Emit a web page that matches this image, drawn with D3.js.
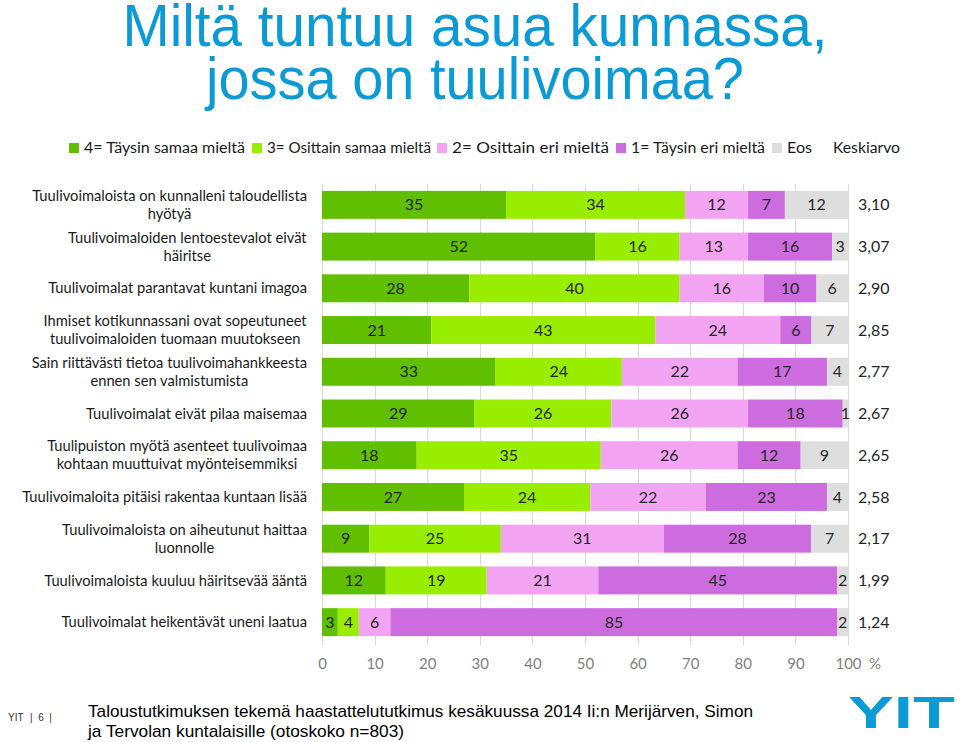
<!DOCTYPE html>
<html>
<head>
<meta charset="utf-8">
<script src="https://cdn.jsdelivr.net/npm/d3@7/dist/d3.min.js"></script>
<style>
  html, body { margin: 0; padding: 0; background: #fff; }
  svg { display: block; }
</style>
</head>
<body>
<svg id="chart" width="960" height="742"></svg>
<script>
// ---------- DATA ----------
const categories = [
  "Tuulivoimaloista on kunnalleni taloudellista\nhyötyä",
  "Tuulivoimaloiden lentoestevalot eivät\nhäiritse",
  "Tuulivoimalat parantavat kuntani imagoa",
  "Ihmiset kotikunnassani ovat sopeutuneet\ntuulivoimaloiden tuomaan muutokseen",
  "Sain riittävästi tietoa tuulivoimahankkeesta\nennen sen valmistumista",
  "Tuulivoimalat eivät pilaa maisemaa",
  "Tuulipuiston myötä asenteet tuulivoimaa\nkohtaan muuttuivat myönteisemmiksi",
  "Tuulivoimaloita pitäisi rakentaa kuntaan lisää",
  "Tuulivoimaloista on aiheutunut haittaa\nluonnolle",
  "Tuulivoimaloista kuuluu häiritsevää ääntä",
  "Tuulivoimalat heikentävät uneni laatua"
];
const seriesNames = ["4= Täysin samaa mieltä", "3= Osittain samaa mieltä", "2= Osittain eri mieltä", "1= Täysin eri mieltä", "Eos"];
const s4  = [35, 52, 28, 21, 33, 29, 18, 27,  9, 12,  3];
const s3  = [34, 16, 40, 43, 24, 26, 35, 24, 25, 19,  4];
const s2  = [12, 13, 16, 24, 22, 26, 26, 22, 31, 21,  6];
const s1  = [ 7, 16, 10,  6, 17, 18, 12, 23, 28, 45, 85];
const eos = [12,  3,  6,  7,  4,  1,  9,  4,  7,  2,  2];
const keskiarvo = ["3,10", "3,07", "2,90", "2,85", "2,77", "2,67", "2,65", "2,58", "2,17", "1,99", "1,24"];
const xTicks = [0, 10, 20, 30, 40, 50, 60, 70, 80, 90, 100];
const titleLines = ["Miltä tuntuu asua kunnassa,", "jossa on tuulivoimaa?"];
const footerLines = ["Taloustutkimuksen tekemä haastattelututkimus kesäkuussa 2014 Ii:n Merijärven, Simon",
                     "ja Tervolan kuntalaisille (otoskoko n=803)"];
const colors = ["#5fbf00", "#99ee00", "#f2a4f2", "#cc6cdf", "#dedede"];

// ---------- SETUP ----------
const svg = d3.select("#chart");
const FONT = "Lato, 'Noto Sans', sans-serif";
const NARROW = "'Liberation Sans Narrow', 'Arial Narrow', 'Liberation Sans', Arial, sans-serif";

const seriesData = [s4, s3, s2, s1, eos];
const rows = categories.map((c, i) => {
  const vals = seriesData.map(s => s[i]);
  const obj = { cat: c };
  seriesNames.forEach((n, k) => obj[n] = vals[k]);
  return obj;
});

const stack = d3.stack().keys(seriesNames).offset(d3.stackOffsetExpand);
const stacked = stack(rows);

const x = d3.scaleLinear().domain([0, 1]).range([322, 848]);
const xAxisScale = d3.scaleLinear().domain([0, 100]).range([322, 848]);
const y = d3.scaleBand().domain(categories).range([184, 643]).paddingInner(0.33).paddingOuter(0.165);

// ---------- TITLE ----------
svg.append("g").selectAll("text").data(titleLines).join("text")
  .attr("x", 475)
  .attr("y", (d, i) => 46 + i * 53)
  .attr("text-anchor", "middle")
  .attr("font-family", NARROW)
  .attr("font-size", 60)
  .attr("fill", "#0a9bd6")
  .attr("textLength", (d, i) => i === 0 ? 705 : 538)
  .attr("lengthAdjust", "spacingAndGlyphs")
  .text(d => d);

// ---------- GRIDLINES ----------
svg.append("g").selectAll("line").data(xTicks).join("line")
  .attr("x1", d => Math.round(xAxisScale(d)) + 0.5)
  .attr("x2", d => Math.round(xAxisScale(d)) + 0.5)
  .attr("y1", 184).attr("y2", 645)
  .attr("stroke", "#d9d9d9").attr("stroke-width", 1);

// ---------- BARS ----------
const layers = svg.append("g").selectAll("g").data(stacked).join("g")
  .attr("fill", (d, i) => colors[i]);

layers.selectAll("rect").data(d => d).join("rect")
  .attr("x", d => x(d[0]))
  .attr("width", d => x(d[1]) - x(d[0]))
  .attr("y", d => y(d.data.cat))
  .attr("height", y.bandwidth());

// bar labels
const labelG = svg.append("g");
stacked.forEach((layer) => {
  labelG.selectAll(null).data(layer).join("text")
    .attr("x", d => (x(d[0]) + x(d[1])) / 2)
    .attr("y", d => y(d.data.cat) + y.bandwidth() / 2)
    .attr("dy", "0.35em")
    .attr("text-anchor", "middle")
    .attr("font-family", FONT)
    .attr("font-size", 16)
    .attr("fill", "#262626")
    .text(d => d.data[layer.key]);
});

// keskiarvo
svg.append("g").selectAll("text").data(rows).join("text")
  .attr("x", 858)
  .attr("y", d => y(d.cat) + y.bandwidth() / 2)
  .attr("dy", "0.35em")
  .attr("font-family", FONT)
  .attr("font-size", 16)
  .attr("fill", "#262626")
  .text((d, i) => keskiarvo[i]);

// ---------- CATEGORY LABELS ----------
const catG = svg.append("g");
categories.forEach(c => {
  const lines = c.split("\n");
  const cy = y(c) + y.bandwidth() / 2;
  const lh = 18;
  const t = catG.append("text")
    .attr("text-anchor", "middle")
    .attr("font-family", FONT)
    .attr("font-size", 14.7)
    .attr("fill", "#1a1a1a");
  lines.forEach((ln, k) => {
    t.append("tspan")
      .attr("x", 0)
      .attr("y", cy + (k - (lines.length - 1) / 2) * lh)
      .attr("dy", "0.35em")
      .text(ln);
  });
  const w = t.node().getBBox().width;
  t.selectAll("tspan").attr("x", 307 - w / 2);
});

// ---------- X AXIS ----------
const axis = svg.append("g").attr("transform", "translate(0,664)")
  .call(d3.axisBottom(xAxisScale).tickValues(xTicks).tickSize(0).tickPadding(0).tickFormat(d3.format("d")));
axis.select(".domain").remove();
axis.selectAll("text")
  .attr("font-family", FONT)
  .attr("font-size", 15)
  .attr("fill", "#7f7f7f")
  .attr("dy", "0.35em")
  .attr("y", 0);
svg.append("text").attr("x", 869).attr("y", 664).attr("dy", "0.35em")
  .attr("font-family", FONT).attr("font-size", 15).attr("fill", "#7f7f7f").text("%");

// ---------- LEGEND ----------
const legX = [69, 252, 437, 616, 772];
const legW = [161, 164, 157, 134, 25];
const lg = svg.append("g");
seriesNames.forEach((n, i) => {
  lg.append("rect").attr("x", legX[i]).attr("y", 143).attr("width", 10).attr("height", 10).attr("fill", colors[i]);
  lg.append("text").attr("x", legX[i] + 15).attr("y", 148).attr("dy", "0.35em")
    .attr("font-family", FONT).attr("font-size", 15.5).attr("fill", "#1a1a1a")
    .attr("textLength", legW[i]).attr("lengthAdjust", "spacingAndGlyphs")
    .text(n);
});
lg.append("text").attr("x", 833).attr("y", 148).attr("dy", "0.35em")
  .attr("font-family", FONT).attr("font-size", 15.5).attr("fill", "#1a1a1a")
  .attr("textLength", 67).attr("lengthAdjust", "spacingAndGlyphs")
  .text("Keskiarvo");

// ---------- FOOTER ----------
svg.append("text").attr("x", 8).attr("y", 721)
  .attr("font-family", "'Liberation Sans', Arial, sans-serif").attr("font-size", 10).attr("fill", "#333").text("YIT");
svg.append("text").attr("x", 30).attr("y", 721)
  .attr("font-family", "'Liberation Sans', Arial, sans-serif").attr("font-size", 10).attr("fill", "#333")
  .attr("xml:space", "preserve").text("|  6  |");

svg.append("g").selectAll("text").data(footerLines).join("text")
  .attr("x", 88)
  .attr("y", (d, i) => 717 + i * 20)
  .attr("font-family", NARROW)
  .attr("font-size", 17)
  .attr("fill", "#000")
  .attr("textLength", (d, i) => i === 0 ? 665 : 316)
  .attr("lengthAdjust", "spacingAndGlyphs")
  .text(d => d);

// logo
svg.append("text").attr("x", 848).attr("y", 728)
  .attr("font-family", "'Liberation Sans', Arial, sans-serif").attr("font-weight", "bold")
  .attr("font-size", 44).attr("fill", "#0a9bd6")
  .attr("textLength", 107).attr("lengthAdjust", "spacingAndGlyphs")
  .text("YIT");
</script>
</body>
</html>
